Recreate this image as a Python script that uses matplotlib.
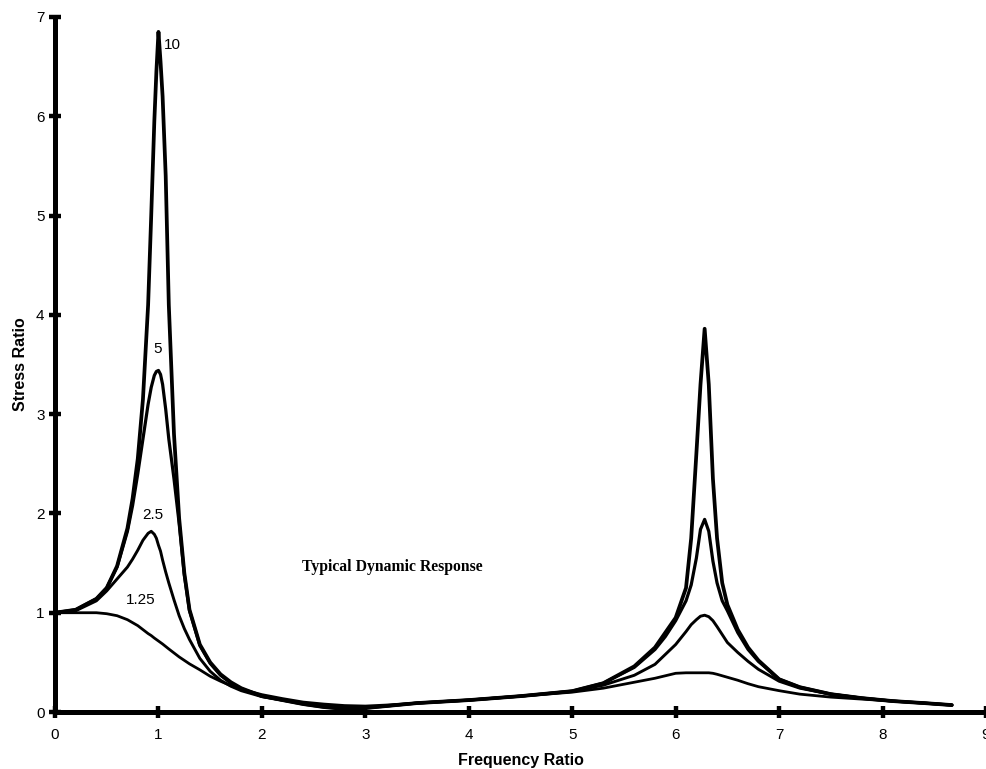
import matplotlib.pyplot as plt

# frequency ratio samples (shared by all curves)
freq = [0, 0.2, 0.4, 0.5, 0.6, 0.7, 0.75, 0.8, 0.85, 0.9, 0.93, 0.96, 0.98, 1.0, 1.02,
        1.04, 1.07, 1.1, 1.15, 1.2, 1.25, 1.3, 1.4, 1.5, 1.6, 1.7, 1.8, 2.0, 2.2, 2.4,
        2.6, 2.8, 3.0, 3.2, 3.5, 4.0, 4.5, 5.0, 5.3, 5.6, 5.8, 5.9, 6.0, 6.1, 6.15,
        6.2, 6.24, 6.28, 6.32, 6.36, 6.4, 6.45, 6.5, 6.6, 6.7, 6.8, 7.0, 7.2, 7.5,
        7.8, 8.1, 8.4, 8.67]

# stress ratio for each curve
s10 = [1.00, 1.03, 1.14, 1.25, 1.47, 1.85, 2.15, 2.55, 3.15, 4.10, 5.00, 5.95, 6.45, 6.85, 6.55,
       6.20, 5.40, 4.10, 2.80, 1.95, 1.40, 1.03, 0.68, 0.50, 0.38, 0.30, 0.24, 0.16, 0.12, 0.08,
       0.05, 0.03, 0.04, 0.06, 0.09, 0.12, 0.16, 0.21, 0.29, 0.46, 0.65, 0.80, 0.95, 1.25, 1.75,
       2.60, 3.30, 3.86, 3.30, 2.35, 1.75, 1.30, 1.08, 0.83, 0.65, 0.52, 0.33, 0.25, 0.18,
       0.14, 0.11, 0.09, 0.07]
s5 = [1.00, 1.03, 1.14, 1.25, 1.46, 1.82, 2.08, 2.40, 2.75, 3.10, 3.27, 3.39, 3.43, 3.44, 3.40,
      3.30, 3.05, 2.75, 2.35, 1.90, 1.38, 1.02, 0.67, 0.49, 0.37, 0.29, 0.235, 0.16, 0.12, 0.08,
      0.05, 0.035, 0.04, 0.06, 0.09, 0.12, 0.16, 0.21, 0.29, 0.45, 0.63, 0.76, 0.92, 1.12, 1.28,
      1.55, 1.84, 1.94, 1.82, 1.52, 1.30, 1.12, 1.02, 0.80, 0.63, 0.51, 0.33, 0.25, 0.18,
      0.14, 0.11, 0.09, 0.07]
s2_5 = [1.00, 1.02, 1.12, 1.22, 1.34, 1.46, 1.54, 1.63, 1.73, 1.80, 1.82, 1.79, 1.75, 1.68, 1.62,
        1.53, 1.41, 1.30, 1.13, 0.97, 0.84, 0.73, 0.54, 0.41, 0.32, 0.26, 0.215, 0.155, 0.12, 0.085,
        0.06, 0.045, 0.045, 0.06, 0.09, 0.12, 0.16, 0.21, 0.27, 0.37, 0.48, 0.58, 0.68, 0.81, 0.88,
        0.93, 0.965, 0.975, 0.96, 0.92, 0.86, 0.78, 0.70, 0.60, 0.51, 0.43, 0.31, 0.24, 0.18,
        0.14, 0.11, 0.09, 0.07]
s1_25 = [1.00, 1.00, 1.00, 0.99, 0.97, 0.93, 0.90, 0.87, 0.83, 0.79, 0.77, 0.745, 0.73, 0.715, 0.70,
         0.685, 0.66, 0.635, 0.595, 0.555, 0.52, 0.485, 0.425, 0.36, 0.31, 0.265, 0.23, 0.175, 0.135, 0.10,
         0.08, 0.065, 0.06, 0.07, 0.09, 0.12, 0.16, 0.20, 0.24, 0.30, 0.34, 0.365, 0.39, 0.395, 0.395,
         0.395, 0.395, 0.395, 0.395, 0.39, 0.38, 0.365, 0.35, 0.32, 0.285, 0.255, 0.215, 0.18, 0.15,
         0.13, 0.11, 0.09, 0.07]

labels = ['10', '5', '2.5', '1.25']
label_pos = [(1.13, 6.72), (0.99, 3.66), (0.95, 1.98), (0.83, 1.13)]

plt.rcParams['font.family'] = ['Liberation Sans', 'DejaVu Sans']

fig = plt.figure(figsize=(9.86, 7.69), dpi=100)
ax = fig.add_axes([0.0558, 0.0741, 0.9442, 0.9038])

for ys, lw in [(s1_25, 2.0), (s2_5, 2.1), (s5, 2.3), (s10, 2.7)]:
    ax.plot(freq, ys, color='black', lw=lw, solid_joinstyle='round', solid_capstyle='round')

for lab, (x, y) in zip(labels, label_pos):
    ax.text(x, y, lab, ha='center', va='center', fontsize=11)

ax.text(3.26, 1.46, 'Typical Dynamic Response', ha='center', va='center',
        fontsize=11.3, fontweight='bold', family='Liberation Serif')

ax.set_xlim(0, 9)
ax.set_ylim(0, 7)
ax.set_xticks(range(10))
ax.set_yticks(range(8))
for side in ['top', 'right']:
    ax.spines[side].set_visible(False)
for side in ['left', 'bottom']:
    ax.spines[side].set_linewidth(3.6)
ax.tick_params(direction='inout', length=9, width=3.2, labelsize=11)
ax.tick_params(axis='x', pad=7)
ax.tick_params(axis='y', pad=3)

ax.set_xlabel('Frequency Ratio', fontsize=11.5, fontweight='bold', labelpad=8)
ax.set_ylabel('Stress Ratio', fontsize=11.5, fontweight='bold', labelpad=6)

fig.savefig('out.png', dpi=100)
